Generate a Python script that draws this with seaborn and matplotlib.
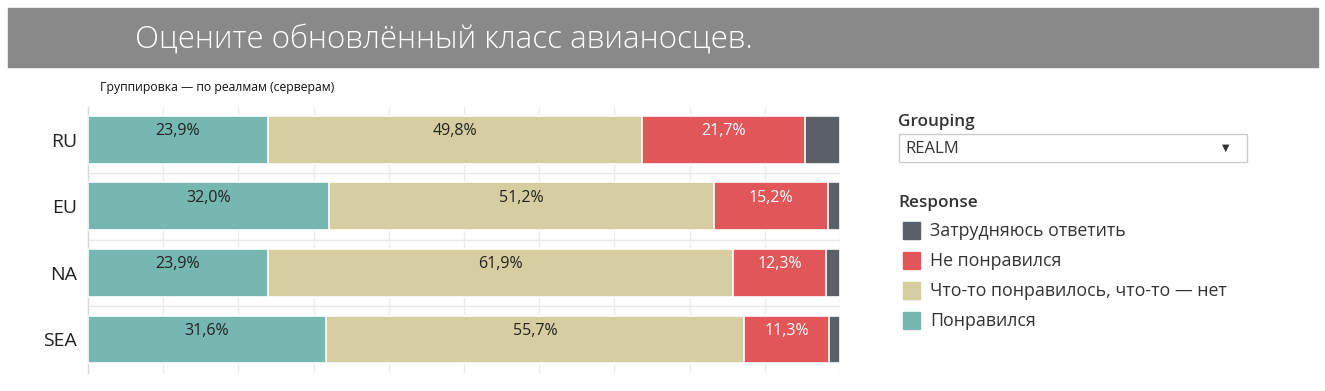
import matplotlib
matplotlib.use("Agg")
import matplotlib.pyplot as plt
import seaborn as sns
import pandas as pd
import numpy as np
from matplotlib.patches import Rectangle

realms = ["RU", "EU", "NA", "SEA"]
responses = ["Понравился", "Что-то понравилось, что-то — нет", "Не понравился", "Затрудняюсь ответить"]
liked = [23.9, 32.0, 23.9, 31.6]
mixed = [49.8, 51.2, 61.9, 55.7]
disliked = [21.7, 15.2, 12.3, 11.3]
unsure = [4.6, 1.6, 1.9, 1.4]
colors = ["#76B7B2", "#D6CEA0", "#E15759", "#5B5F67"]
label_colors = ["#222222", "#222222", "#FFFFFF", "#FFFFFF"]

title = "Оцените обновлённый класс авианосцев."
subtitle = "Группировка — по реалмам (серверам)"

sns.set_theme(style="white")
plt.rcParams["font.family"] = ["Open Sans", "DejaVu Sans"]

W, H = 1325, 391
fig = plt.figure(figsize=(W / 100, H / 100), dpi=100)

# header band
fig.patches.append(Rectangle((8 / W, 1 - 67 / H), 1310 / W, 59 / H,
                             transform=fig.transFigure, color="#898989", zorder=0))
fig.text(135 / W, 1 - 40 / H, title, color="white", fontsize=22.5,
         va="center", ha="left", fontweight="light")
fig.text(100 / W, 1 - 88 / H, subtitle, color="#111111", fontsize=8.8,
         va="center", ha="left")

ax = fig.add_axes([88 / W, 1 - 372.75 / H, 752 / W, 266.25 / H])

df = pd.DataFrame({"realm": realms, "liked": liked, "mixed": mixed,
                   "disliked": disliked, "unsure": unsure})
parts = ["liked", "mixed", "disliked", "unsure"]
cum = df[parts].cumsum(axis=1) / 100.0

# cumulative layers, largest first so smaller ones sit on top
for i in reversed(range(len(parts))):
    sns.barplot(x=cum[parts[i]], y=df["realm"], color=colors[i], orient="h",
                width=0.72, edgecolor="white", linewidth=1.2, saturation=1,
                ax=ax, zorder=3)

# segment labels
for i in range(3):
    starts = cum[parts[i - 1]] if i > 0 else pd.Series([0.0] * len(realms))
    for r in range(len(realms)):
        val = df[parts[i]][r]
        xc = starts[r] + val / 200.0
        ax.text(xc, r - 0.13, f"{val:.1f}%".replace(".", ","), ha="center",
                va="center", fontsize=11.5, color=label_colors[i], zorder=5)

ax.set_xlim(0, 1.0)
ax.set_ylim(3.5, -0.5)
ax.set_xticks(np.arange(0, 1.01, 0.1))
ax.set_xticklabels([])
ax.tick_params(axis="x", length=0)
ax.tick_params(axis="y", length=0, labelsize=14, colors="#222222", pad=8)
ax.set_xlabel("")
ax.set_ylabel("")
ax.grid(axis="x", color="#EBEBEB", linewidth=1, zorder=0)
for r in range(len(realms) - 1):
    ax.axhline(r + 0.5, color="#E9E9E9", linewidth=1, zorder=1)
for s in ["top", "right", "bottom"]:
    ax.spines[s].set_visible(False)
ax.spines["left"].set_color("#D9D9D9")
ax.spines["left"].set_linewidth(1)

# right panel: filter + legend
fig.text(898 / W, 1 - 122 / H, "Grouping", fontsize=12.3, fontweight="semibold",
         color="#333333", va="center", ha="left")
fig.patches.append(Rectangle((899 / W, 1 - 162 / H), 348 / W, 28 / H,
                             transform=fig.transFigure, facecolor="white",
                             edgecolor="#CCCCCC", linewidth=1))
fig.text(905 / W, 1 - 149 / H, "REALM", fontsize=12, color="#333333",
         va="center", ha="left")
fig.text(1226 / W, 1 - 148 / H, "▼", fontsize=7, color="#333333",
         va="center", ha="center", family="DejaVu Sans")

fig.text(898 / W, 1 - 203 / H, "Response", fontsize=12.3, fontweight="semibold",
         color="#333333", va="center", ha="left")
legend_order = [3, 2, 1, 0]
for k, idx in enumerate(legend_order):
    yc = 230 + k * 30
    fig.patches.append(Rectangle((903 / W, 1 - (yc + 8.5) / H), 17 / W, 17 / H,
                                 transform=fig.transFigure, color=colors[idx]))
    fig.text(930 / W, 1 - (yc + 1) / H, responses[idx], fontsize=12.8,
             color="#333333", va="center", ha="left")

fig.savefig("out.png", dpi=100)
